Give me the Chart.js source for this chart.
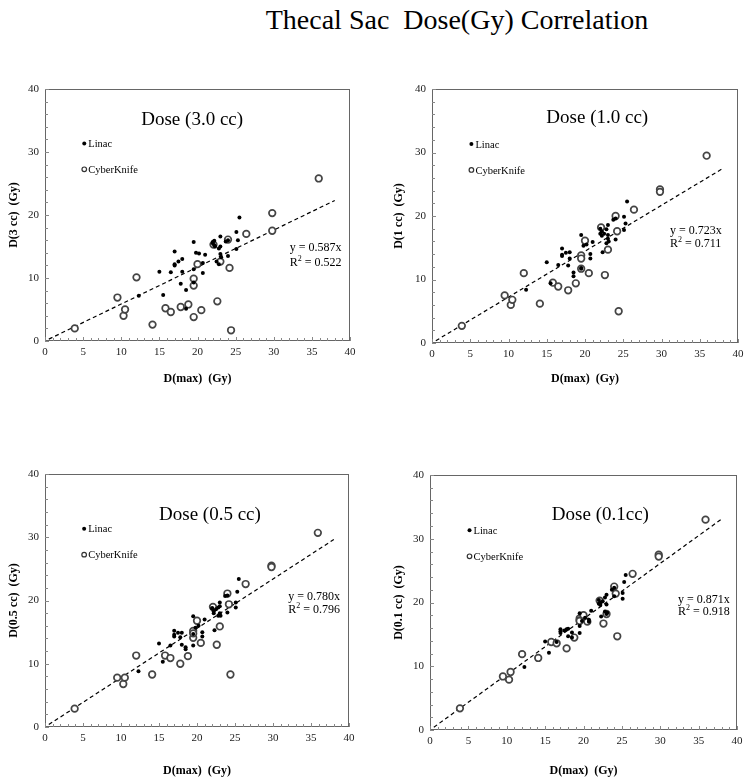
<!DOCTYPE html>
<html><head><meta charset="utf-8">
<script src="https://cdn.jsdelivr.net/npm/chart.js@4/dist/chart.umd.min.js"></script>
<style>
html,body{margin:0;padding:0;background:#fff}
body{width:750px;height:781px;position:relative;overflow:hidden;font-family:"Liberation Serif",serif}
#title{position:absolute;left:207px;width:500px;top:2px;text-align:center;font-size:28px;line-height:36px;color:#000;white-space:pre}
canvas{position:absolute}
</style></head>
<body>
<div id="title">Thecal Sac  Dose(Gy) Correlation</div>
<canvas id="c1" width="380" height="320" style="left:0px;top:70px"></canvas>
<canvas id="c2" width="365" height="320" style="left:385px;top:70px"></canvas>
<canvas id="c3" width="380" height="327" style="left:0px;top:455px"></canvas>
<canvas id="c4" width="365" height="327" style="left:385px;top:455px"></canvas>
<script>
// ---- data ----
const dmaxLinac = [12.3,15.0,15.5,16.5,17.0,17.0,17.0,17.5,17.8,18.0,18.0,18.5,18.5,19.5,19.5,19.5,19.8,20.2,20.7,20.7,21.0,22.0,22.0,22.2,22.2,22.3,22.5,22.8,22.8,23.0,23.0,23.0,23.1,23.7,24.0,24.0,25.1,25.1,25.3,25.5];
const linac3cc  = [7.2,11.0,7.3,10.9,12.0,12.2,14.2,12.6,9.1,13.0,11.0,8.1,5.1,15.7,11.4,9.3,14.0,13.9,12.4,10.8,13.7,15.5,15.7,15.9,15.2,15.0,12.6,14.7,12.2,16.6,15.0,13.8,13.3,15.8,16.0,13.5,17.3,14.6,16.0,19.6];
const linac1cc  = [8.4,12.7,9.4,12.3,13.7,13.9,14.9,14.2,12.2,14.3,13.3,11.1,10.5,17.0,11.8,11.7,15.3,15.5,14.0,13.3,15.9,18.0,17.2,17.6,16.9,14.3,17.2,17.9,15.7,18.6,17.0,16.4,16.0,19.4,19.6,16.3,19.9,17.8,18.8,22.3];
const linac05cc = [8.8,13.2,10.3,12.9,14.3,14.6,15.2,14.9,14.2,14.9,13.0,12.6,12.3,17.5,12.9,14.7,15.7,16.0,15.0,14.3,17.0,18.8,18.7,18.3,18.0,15.3,18.6,18.9,17.6,19.7,19.1,18.0,17.6,20.7,20.8,18.1,19.7,18.9,21.4,23.4];
const linac01cc = [9.9,13.9,12.1,13.8,15.5,15.2,15.8,15.6,15.8,15.9,14.7,15.3,14.5,18.3,15.2,16.3,17.1,17.6,17.0,17.3,18.7,20.4,19.8,19.6,20.0,17.8,20.2,20.8,18.6,21.2,19.7,18.2,18.4,22.0,22.3,21.0,21.5,20.6,23.2,24.3];

const dmaxCK = [3.9,9.5,10.3,10.5,12.0,14.1,15.8,16.5,17.8,18.8,19.5,19.5,19.5,20.0,20.5,22.1,22.6,23.0,24.0,24.2,24.4,26.4,29.8,29.8,35.9];
const ck3cc  = [2.0,6.9,4.0,5.0,10.1,2.6,5.2,4.6,5.4,5.8,9.9,8.8,3.8,12.2,4.9,15.3,6.3,12.6,16.1,11.6,1.7,17.0,20.3,17.5,25.8];
const ck1cc  = [2.7,7.5,6.0,6.8,11.0,6.2,9.5,8.9,8.3,9.4,13.8,13.3,11.7,16.1,11.0,18.2,10.7,14.7,20.0,17.6,5.0,21.0,24.2,23.8,29.5];
const ck05cc = [2.9,7.8,6.8,7.8,11.3,8.3,11.3,10.9,10.0,11.2,15.2,14.1,14.8,16.8,13.3,19.0,13.0,15.9,21.1,19.4,8.3,22.6,25.5,25.3,30.7];
const ck01cc = [3.4,8.4,7.9,9.1,11.9,11.3,13.8,13.6,12.8,14.5,17.5,17.2,17.1,18.0,17.0,20.3,16.7,18.2,22.5,21.4,14.7,24.5,27.5,27.2,33.0];

const slopes = [0.587, 0.723, 0.780, 0.871];
const r2vals = ['0.522', '0.711', '0.796', '0.918'];
const panelTitles = ['Dose (3.0 cc)', 'Dose (1.0 cc)', 'Dose (0.5 cc)', 'Dose (0.1cc)'];
const yTitles = ['D(3 cc)  (Gy)', 'D(1 cc)  (Gy)', 'D(0.5 cc)  (Gy)', 'D(0.1 cc)  (Gy)'];
const xTitle = 'D(max)  (Gy)';
const legendLabels = ['Linac', 'CyberKnife'];
const trendRange = [0.5, 38];

// ---- drawing ----
const FONT = '"Liberation Serif", serif';

const deco = {
  id: 'deco',
  beforeDatasetsDraw(chart, args, o) {
    const {ctx, chartArea: a, scales: {x, y}} = chart;
    ctx.save();
    ctx.strokeStyle = '#666';
    ctx.lineWidth = 1;
    ctx.strokeRect(a.left + 0.5, a.top + 0.5, a.right - a.left - 1, a.bottom - a.top - 1);
    ctx.strokeStyle = '#888';
    ctx.beginPath();
    for (let v = 0; v <= 40; v += 1) {
      const px = Math.round(x.getPixelForValue(v)) + 0.5;
      const len = v % 5 === 0 ? 4 : 3;
      ctx.moveTo(px, a.bottom); ctx.lineTo(px, a.bottom - len);
    }
    for (let v = 0; v <= 40; v += 2) {
      const py = Math.round(y.getPixelForValue(v)) + 0.5;
      const len = v % 10 === 0 ? 4 : 3;
      ctx.moveTo(a.left, py); ctx.lineTo(a.left + len, py);
    }
    ctx.stroke();
    ctx.restore();
  },
  afterDatasetsDraw(chart, args, o) {
    const {ctx, scales: {x, y}} = chart;
    ctx.save();
    ctx.fillStyle = '#000';
    // panel title
    ctx.font = '19px ' + FONT;
    ctx.textAlign = 'center'; ctx.textBaseline = 'middle';
    ctx.fillText(o.title, x.getPixelForValue(o.titleAt[0]), y.getPixelForValue(o.titleAt[1]));
    // legend
    const lx = x.getPixelForValue(o.legendAt[0]);
    const ly1 = y.getPixelForValue(o.legendAt[1]);
    const ly2 = y.getPixelForValue(o.legendAt[2]);
    ctx.beginPath(); ctx.arc(lx, ly1, 2, 0, Math.PI * 2); ctx.fill();
    ctx.beginPath(); ctx.arc(lx, ly2, 2.3, 0, Math.PI * 2);
    ctx.fillStyle = '#fff'; ctx.fill();
    ctx.strokeStyle = '#333'; ctx.lineWidth = 1.2; ctx.stroke();
    ctx.fillStyle = '#000';
    ctx.font = '10.5px ' + FONT;
    ctx.textAlign = 'left';
    ctx.fillText(legendLabels[0], lx + 4, ly1 + 1);
    ctx.fillText(legendLabels[1], lx + 4, ly2 + 1);
    // equation
    ctx.font = '12px ' + FONT;
    const ex = x.getPixelForValue(o.eqAt[0]);
    const ey1 = y.getPixelForValue(o.eqAt[1]);
    const ey2 = y.getPixelForValue(o.eqAt[2]);
    ctx.fillText('y = ' + o.slope.toFixed(3) + 'x', ex, ey1);
    ctx.fillText('R', ex, ey2);
    const rw = ctx.measureText('R').width;
    ctx.font = '8px ' + FONT;
    ctx.fillText('2', ex + rw, ey2 - 4);
    const sw = ctx.measureText('2').width;
    ctx.font = '12px ' + FONT;
    ctx.fillText(' = ' + o.r2, ex + rw + sw, ey2);
    ctx.restore();
  }
};

function makePanel(id, p) {
  const tickFont = {family: FONT, size: 11};
  const titleFont = {family: FONT, size: 12, weight: 'bold'};
  new Chart(document.getElementById(id), {
    data: {
      datasets: [
        {type: 'scatter', label: legendLabels[0], order: 0,
         data: dmaxLinac.map((v, i) => ({x: v, y: p.linac[i]})),
         pointRadius: 2, pointBackgroundColor: '#000', pointBorderColor: '#000', pointBorderWidth: 0},
        {type: 'scatter', label: legendLabels[1], order: 1,
         data: dmaxCK.map((v, i) => ({x: v, y: p.ck[i]})),
         pointRadius: 3.3, pointBackgroundColor: '#fff', pointBorderColor: '#444', pointBorderWidth: 1.7},
        {type: 'line', label: 'fit', order: 2,
         data: trendRange.map(v => ({x: v, y: v * p.slope})),
         borderColor: '#000', borderWidth: 1.2, borderDash: [4, 3], pointRadius: 0, fill: false}
      ]
    },
    options: {
      responsive: false, animation: false, devicePixelRatio: 1,
      layout: {padding: {left: 0, top: p.padTop, right: p.padRight, bottom: 0}},
      plugins: {
        legend: {display: false}, tooltip: {enabled: false},
        deco: {title: p.title, titleAt: p.titleAt, legendAt: [5.15, 31.35, 27.25],
               eqAt: p.eqAt, slope: p.slope, r2: p.r2}
      },
      scales: {
        x: {type: 'linear', min: 0, max: 40,
            ticks: {stepSize: 5, font: tickFont, color: '#222', padding: 5, maxRotation: 0},
            grid: {display: false, drawTicks: false}, border: {display: false},
            title: {display: true, text: xTitle, font: titleFont, color: '#000', padding: {top: 4, bottom: 4}},
            afterFit(s) { s.height = p.xH; }},
        y: {type: 'linear', min: 0, max: 40,
            ticks: {stepSize: 10, font: tickFont, color: '#222', padding: 6},
            grid: {display: false, drawTicks: false}, border: {display: false},
            title: {display: true, text: p.yTitle, font: titleFont, color: '#000', padding: {top: 7, bottom: 4}},
            afterFit(s) { s.width = p.yW; }}
      }
    },
    plugins: [deco]
  });
}

makePanel('c1', {linac: linac3cc, ck: ck3cc, slope: slopes[0], r2: r2vals[0], title: panelTitles[0], yTitle: yTitles[0],
  titleAt: [19.3, 35.1], eqAt: [32.1, 14.8, 12.4], padTop: 19, padRight: 30, xH: 49, yW: 45});
makePanel('c2', {linac: linac1cc, ck: ck1cc, slope: slopes[1], r2: r2vals[1], title: panelTitles[1], yTitle: yTitles[1],
  titleAt: [21.6, 35.4], eqAt: [31.1, 17.7, 15.6], padTop: 19, padRight: 12, xH: 47, yW: 47});
makePanel('c3', {linac: linac05cc, ck: ck05cc, slope: slopes[2], r2: r2vals[2], title: panelTitles[2], yTitle: yTitles[2],
  titleAt: [21.7, 33.5], eqAt: [32.0, 20.6, 18.5], padTop: 19, padRight: 31, xH: 55, yW: 45});
makePanel('c4', {linac: linac01cc, ck: ck01cc, slope: slopes[3], r2: r2vals[3], title: panelTitles[3], yTitle: yTitles[3],
  titleAt: [22.2, 33.7], eqAt: [32.3, 20.4, 18.6], padTop: 20, padRight: 13, xH: 52, yW: 45});
</script>
</body></html>
